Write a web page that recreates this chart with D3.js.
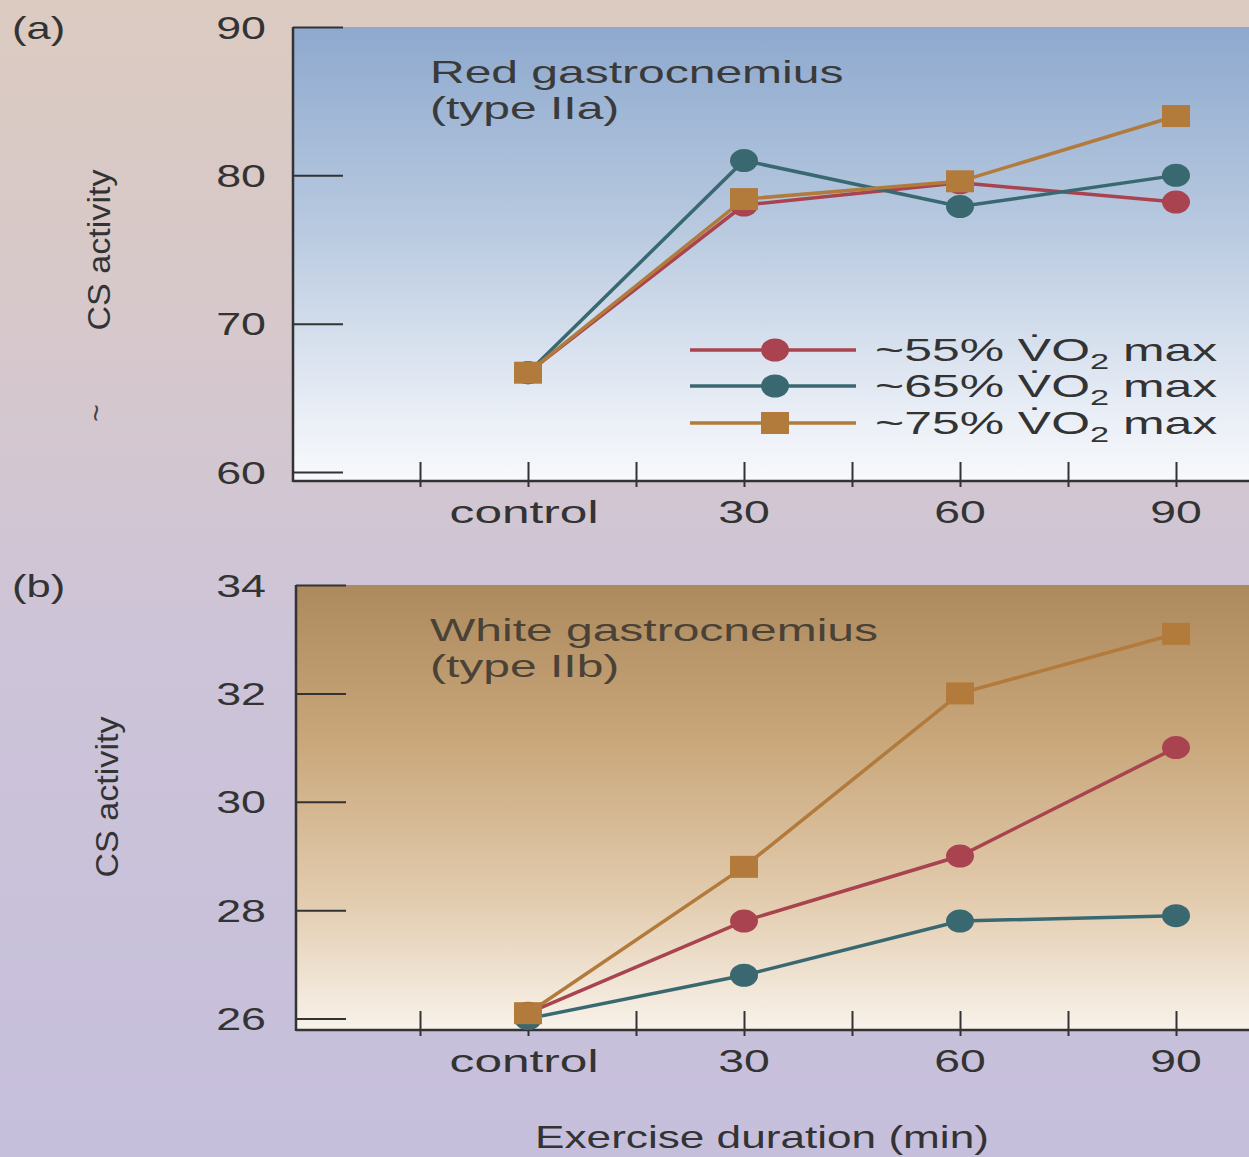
<!DOCTYPE html>
<html><head><meta charset="utf-8">
<script src="https://cdn.jsdelivr.net/npm/d3@7"></script>
<style>body{margin:0;background:#d2c6d4} svg{display:block}</style></head>
<body>
<svg id="c" width="1249" height="1157"></svg>
<script>
// ---- data ----
const timepoints = ["control", "30", "60", "90"];
const minutes = [0, 30, 60, 90];
const xTickMinutes = [-15, 0, 15, 30, 45, 60, 75, 90];
const seriesLabels = ["~55%", "~65%", "~75%"];
const seriesShapes = ["circle", "circle", "square"];
const redIIa55 = [66.7, 78.0, 79.5, 78.2];
const redIIa65 = [66.7, 81.0, 77.9, 80.0];
const redIIa75 = [66.7, 78.4, 79.6, 84.0];
const whiteIIb55 = [26.1, 27.8, 29.0, 31.0];
const whiteIIb65 = [26.0, 26.8, 27.8, 27.9];
const whiteIIb75 = [26.1, 28.8, 32.0, 33.1];
const redTicks = [60, 70, 80, 90];
const whiteTicks = [26, 28, 30, 32, 34];

// ---- style ----
const colors = ["#a8434f", "#396870", "#b27a3b"];
const FONT = "'Liberation Sans', Arial, sans-serif";
const SX = 1.45;
const W = 1249, H = 1157;
const svg = d3.select("#c");
const defs = svg.append("defs");

function grad(id, stops) {
  const g = defs.append("linearGradient").attr("id", id)
    .attr("x1", 0).attr("y1", 0).attr("x2", 0).attr("y2", 1);
  stops.forEach(s => g.append("stop").attr("offset", s[0]).attr("stop-color", s[1]));
}
grad("pageBg", [[0, "#dccbc1"], [0.3, "#d6c8cc"], [0.55, "#cdc4d8"], [1, "#c6bfdc"]]);
grad("blueBg", [[0, "#8ea9ce"], [0.45, "#b9cae0"], [0.85, "#e9eef6"], [1, "#f8f9fb"]]);
grad("brownBg", [[0, "#ad8a5e"], [0.35, "#c9a77b"], [0.7, "#e2cbad"], [1, "#f8f2ea"]]);

svg.append("rect").attr("width", W).attr("height", H).attr("fill", "url(#pageBg)");

function txt(x, y, s, opts = {}) {
  const t = svg.append("text")
    .attr("transform", `translate(${x},${y}) scale(${opts.sx || SX},1)`)
    .attr("font-family", FONT)
    .attr("font-size", opts.size || 32)
    .attr("fill", opts.fill || "#333")
    .attr("text-anchor", opts.anchor || "start")
    .text(s);
  return t;
}

const x = d3.scaleLinear().domain([-15, 90]).range([420, 1176]);

const panels = [
  { letter: "(a)", title: ["Red gastrocnemius", "(type IIa)"], values: [redIIa55, redIIa65, redIIa75],
    ticks: redTicks, domain: [59.4, 90], range: [481, 27], axisX: 293, bg: "url(#blueBg)",
    titleFill: "#3a3a3a", ylab: [100, 250], legend: true },
  { letter: "(b)", title: ["White gastrocnemius", "(type IIb)"], values: [whiteIIb55, whiteIIb65, whiteIIb75],
    ticks: whiteTicks, domain: [25.79, 34], range: [1030, 585], axisX: 296, bg: "url(#brownBg)",
    titleFill: "#4a4236", ylab: [108, 797], legend: false }
];

panels.forEach(p => {
  const y = d3.scaleLinear().domain(p.domain).range(p.range);
  const yb = p.range[0], yt = p.range[1];
  // background
  svg.append("rect").attr("x", p.axisX).attr("y", yt).attr("width", W - p.axisX).attr("height", yb - yt)
    .attr("fill", p.bg);
  // y axis
  const yAxis = d3.axisRight(y).tickValues(p.ticks).tickSize(50).tickFormat("");
  const gy = svg.append("g").attr("transform", `translate(${p.axisX},0)`).call(yAxis);
  gy.select(".domain").remove();
  gy.selectAll(".tick line").attr("stroke", "#333").attr("stroke-width", 2);
  svg.append("line").attr("x1", p.axisX).attr("x2", p.axisX).attr("y1", yt).attr("y2", yb + 1)
    .attr("stroke", "#333").attr("stroke-width", 2.5);
  p.ticks.forEach(v => txt(266, y(v) + 11.5, String(v), { anchor: "end", sx: 1.4 }));
  // x axis
  svg.append("line").attr("x1", p.axisX).attr("x2", W).attr("y1", yb).attr("y2", yb)
    .attr("stroke", "#333").attr("stroke-width", 2.5);
  const xAxis = d3.axisTop(x).tickValues(xTickMinutes).tickSize(25).tickFormat("");
  const gx = svg.append("g").attr("transform", `translate(0,${yb + 6})`).call(xAxis);
  gx.select(".domain").remove();
  gx.selectAll(".tick line").attr("stroke", "#333").attr("stroke-width", 2);
  timepoints.forEach((t, i) => txt(x(minutes[i]) - (i === 0 ? 4 : 0), yb + 42, t,
    { anchor: "middle", sx: i === 0 ? 1.55 : SX }));
  // letter + titles
  txt(12, yt + 12, p.letter, { sx: 1.36 });
  txt(430, yt + 56, p.title[0], { fill: p.titleFill, sx: 1.5 });
  txt(430, yt + 92, p.title[1], { fill: p.titleFill, sx: 1.5 });
  // y label
  svg.append("text")
    .attr("transform", `translate(${p.ylab[0]},${p.ylab[1]}) rotate(-90) scale(1.1,1)`)
    .attr("font-family", FONT).attr("font-size", 31).attr("fill", "#333")
    .attr("text-anchor", "middle").attr("dominant-baseline", "central")
    .text("CS activity");

  // series
  const line = d3.line().x((d, i) => x(minutes[i])).y(d => y(d));
  p.values.forEach((vals, s) => {
    svg.append("path").datum(vals).attr("d", line).attr("fill", "none")
      .attr("stroke", colors[s]).attr("stroke-width", 3.5);
  });
  p.values.forEach((vals, s) => {
    if (seriesShapes[s] === "circle") {
      svg.selectAll(null).data(vals).enter().append("ellipse")
        .attr("cx", (d, i) => x(minutes[i])).attr("cy", d => y(d))
        .attr("rx", 14).attr("ry", 11.5).attr("fill", colors[s]);
    } else {
      svg.selectAll(null).data(vals).enter().append("rect")
        .attr("x", (d, i) => x(minutes[i]) - 14).attr("y", d => y(d) - 11)
        .attr("width", 28).attr("height", 22).attr("fill", colors[s]);
    }
  });

  // legend
  if (p.legend) {
    const rows = [350, 386, 423];
    seriesLabels.forEach((lab, s) => {
      const ry = rows[s];
      svg.append("line").attr("x1", 690).attr("x2", 856).attr("y1", ry).attr("y2", ry)
        .attr("stroke", colors[s]).attr("stroke-width", 3.5);
      if (seriesShapes[s] === "circle") {
        svg.append("ellipse").attr("cx", 775).attr("cy", ry).attr("rx", 14).attr("ry", 11.5).attr("fill", colors[s]);
      } else {
        svg.append("rect").attr("x", 761).attr("y", ry - 11).attr("width", 28).attr("height", 22).attr("fill", colors[s]);
      }
      const t = txt(875, ry + 11, "", { sx: 1.56 });
      t.append("tspan").text(lab + " V\u0307O");
      t.append("tspan").attr("font-size", 22).attr("dy", 8).text("2");
      t.append("tspan").attr("dy", -8).text(" max");
    });
  }
});

// tilde break mark on top y-axis label
svg.append("text").attr("transform", "translate(95,413) rotate(-90)")
  .attr("font-family", FONT).attr("font-size", 30).attr("fill", "#444")
  .attr("text-anchor", "middle").attr("dominant-baseline", "central").text("~");

// shared x-axis title
txt(762, 1148, "Exercise duration (min)", { anchor: "middle", sx: 1.38 });
</script>
</body></html>
